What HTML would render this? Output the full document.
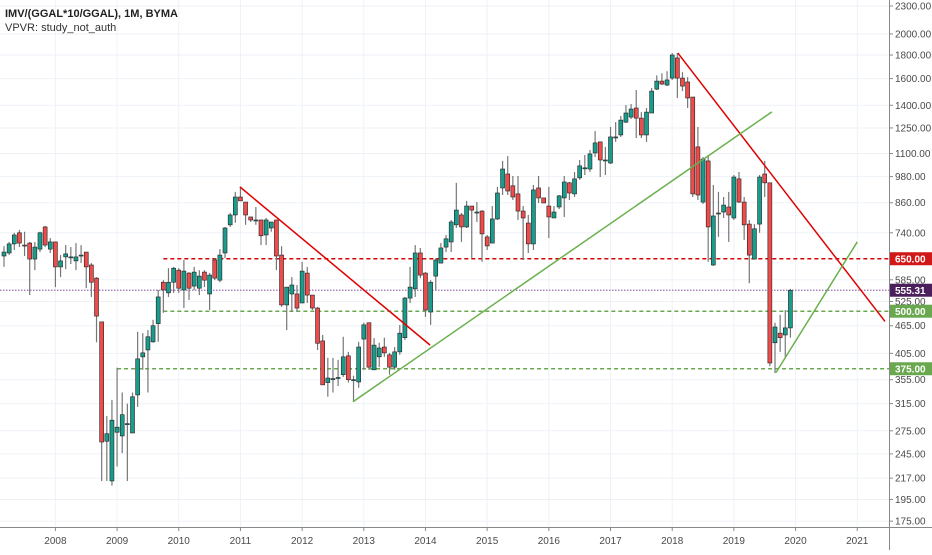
<!DOCTYPE html>
<html><head><meta charset="utf-8"><style>
html,body{margin:0;padding:0;background:#fff;}
body{width:932px;height:550px;overflow:hidden;font-family:"Liberation Sans",sans-serif;}
svg text{font-family:"Liberation Sans",sans-serif;}
</style></head><body>
<svg id="chart" width="932" height="550" viewBox="0 0 932 550" xmlns="http://www.w3.org/2000/svg">
<g id="grid"></g>
<g id="levels"></g>
<g id="candles"></g>
<g id="trend"></g>
<g id="yaxis"></g>
<g id="xaxis"></g>
<text x="5" y="17" font-size="11" font-weight="bold" fill="#222">IMV/(GGAL*10/GGAL), 1M, BYMA</text>
<text x="5" y="31" font-size="11" fill="#333">VPVR: study_not_auth</text>
</svg>
<script>
const opens=[659,669,700,740,696,703,649,682,762,682,707,624,656,656,643,662,672,630,590,474,261,214,273,268,285,272,329,398,412,429,470,578,548,578,614,556,605,567,561,608,545,646,584,669,770,809,885,863,801,789,789,732,758,789,662,516,545,545,521,605,542,508,431,350,357,359,364,400,355,351,435,472,373,398,418,402,378,408,438,534,559,669,605,498,596,636,689,707,770,809,762,846,821,825,725,703,793,926,993,936,899,825,777,700,926,881,846,797,842,881,950,899,974,1024,1018,1103,1166,1065,1049,1195,1207,1287,1320,1381,1313,1207,1347,1518,1580,1549,1604,1774,1604,1573,1459,1137,863,1060,630,817,821,842,797,969,863,773,649,773,993,950,427,448,444,460];
const highs=[692,707,740,751,744,707,707,744,766,721,707,662,696,689,703,696,672,636,593,474,296,321,377,333,315,333,451,448,455,479,556,584,620,624,620,646,608,624,614,614,605,652,682,762,817,908,931,863,801,842,789,797,781,789,692,564,593,570,640,624,542,511,444,396,396,392,440,408,362,429,472,472,437,427,438,406,418,467,537,624,696,686,608,584,652,703,732,789,950,817,868,846,863,829,732,846,931,1060,1086,983,983,846,809,940,983,881,931,846,894,983,954,1003,1065,1092,1120,1231,1166,1137,1256,1287,1327,1402,1409,1511,1353,1381,1526,1626,1643,1660,1818,1818,1652,1612,1459,1256,1081,1092,940,908,885,908,988,1003,885,789,773,988,1060,950,472,491,503,559];
const lows=[624,662,679,689,659,542,614,672,689,669,564,593,617,633,614,636,561,537,428,214,214,209,230,246,214,272,310,373,333,427,429,496,537,548,548,508,529,556,542,564,503,584,578,652,762,778,868,770,781,770,696,696,744,614,511,455,498,498,521,521,503,412,346,326,333,344,360,350,318,341,373,373,373,378,398,364,373,402,433,521,537,590,486,467,556,636,672,672,758,707,758,652,781,640,679,703,789,894,894,872,789,646,669,679,859,859,721,797,833,801,872,885,964,988,1003,1081,978,988,1044,1166,1195,1281,1307,1189,1189,1166,1347,1511,1549,1541,1589,1452,1503,1381,885,872,855,640,627,725,797,707,789,859,714,575,649,740,885,380,367,408,398,438];
const closes=[672,700,732,703,693,649,689,740,696,707,624,643,666,656,656,662,624,578,488,260,271,290,280,298,285,326,394,406,440,465,537,556,578,620,561,611,561,608,596,584,599,590,662,758,809,885,868,809,789,789,729,789,781,659,516,564,570,508,611,542,508,426,346,358,357,359,398,355,355,418,467,378,422,416,406,378,408,448,534,564,669,599,503,578,646,686,718,781,829,762,846,829,821,736,693,793,903,1018,912,885,825,797,700,917,881,859,801,821,890,954,903,969,1034,1024,1098,1160,1065,1065,1195,1195,1300,1347,1374,1313,1207,1353,1503,1580,1557,1589,1800,1604,1541,1452,899,894,1070,762,805,817,850,809,978,863,770,662,755,978,950,386,462,438,460,555.31];
const yTicks=[2300,2000,1800,1600,1400,1250,1100,980,860,740,650,585,555.31,525,500,465,405,375,355,315,275,245,217,195,175];
const gridTicks=[2300,2000,1800,1600,1400,1250,1100,980,860,740,585,525,465,405,355,315,275,245,217,195,175];
const years=["2008","2009","2010","2011","2012","2013","2014","2015","2016","2017","2018","2019","2020","2021"];
const yearIdx=[10,22,34,46,58,70,82,94,106,118,130,142,154,166];
const levelVals=[650,555.31,500,375];
const levelStart=[31,-1,31,22];
const levelColors=["#d50000","#9c6fb5","#6aa84f","#6aa84f"];
const levelBg=["#d01818","#4b1f5c","#6aa84f","#6aa84f"];
const levelNames=["level-650","last-price-555","level-500","level-375"];
const trendX1=[45.9,131.1,67.9,150.2];
const trendY1=[931,1818,318,368];
const trendX2=[82.9,171.4,149.4,166];
const trendY2=[422,475,1355,707];
const trendColors=["#e00000","#e00000","#6ab04c","#6ab04c"];
const trendNames=["red-trendline-2011","red-trendline-2018","green-trendline-2012","green-trendline-2019"];

const NS="http://www.w3.org/2000/svg";
const PR=889;
function xs(i){return 4+i*5.14;}
function ys(v){return 6+200*Math.log(2300/v);}
function mk(tag,attrs,parent){const e=document.createElementNS(NS,tag);for(const k in attrs)e.setAttribute(k,attrs[k]);parent.appendChild(e);return e;}
const grid=document.getElementById('grid');
gridTicks.forEach(v=>{
  const l=mk('line',{x1:0,x2:PR,y1:ys(v),y2:ys(v),stroke:'#eef2f7','stroke-width':1},grid);
  
  
});
yearIdx.forEach(i=>{
  const l=mk('line',{x1:xs(i),x2:xs(i),y1:0,y2:527,stroke:'#eef2f7','stroke-width':1},grid);
  
  
});
const lev=document.getElementById('levels');
levelVals.forEach((v,k)=>{
  const x1=levelStart[k]<0?0:xs(levelStart[k]);
  const l=mk('line',{x1:x1,x2:PR,y1:ys(v),y2:ys(v),stroke:levelColors[k],'stroke-width':k==1?1.2:1.5,'stroke-dasharray':k==1?'1.5,1.5':'4,3'},lev);
  
  
});
const cg=document.getElementById('candles');
opens.forEach((o,i)=>{
  const c=closes[i],h=highs[i],lo=lows[i];
  const x=xs(i);const up=c>=o;
  const g=mk('g',{},cg);
  
  
  mk('line',{x1:x,x2:x,y1:ys(h),y2:ys(lo),stroke:'#777','stroke-width':1.2},g);
  const top=ys(Math.max(o,c)),bot=ys(Math.min(o,c));
  mk('rect',{x:x-2,y:top,width:4,height:Math.max(1,bot-top),fill:up?'#1a9c8c':'#ee4b4b',stroke:'#222','stroke-width':0.6},g);
});
const tg=document.getElementById('trend');
trendX1.forEach((x,k)=>{
  const l=mk('line',{x1:xs(x),y1:ys(trendY1[k]),x2:xs(trendX2[k]),y2:ys(trendY2[k]),stroke:trendColors[k],'stroke-width':1.5},tg);
  
  
});
const ya=document.getElementById('yaxis');
mk('line',{x1:PR+0.5,x2:PR+0.5,y1:0,y2:550,stroke:'#888','stroke-width':1},ya);
mk('rect',{x:PR+1,y:0,width:50,height:550,fill:'#fff'},ya).setAttribute('fill','#fff');
mk('line',{x1:PR+0.5,x2:PR+0.5,y1:0,y2:550,stroke:'#888','stroke-width':1},ya);
yTicks.forEach(v=>{
  if(levelVals.indexOf(v)>=0)return;
  const y=ys(v);
  mk('line',{x1:PR,x2:PR+4,y1:y,y2:y,stroke:'#888'},ya);
  const t=mk('text',{x:PR+6,y:y+3.5,'font-size':10,fill:'#4a4a4a'},ya);
  t.textContent=v.toFixed(2);
  
  
});
levelVals.forEach((v,k)=>{
  const y=ys(v);
  const r=mk('rect',{x:PR+1,y:y-6.5,width:42,height:13,fill:levelBg[k]},ya);
  
  
  const t=mk('text',{x:PR+6,y:y+4,'font-size':10,'font-weight':'bold',fill:'#fff'},ya);
  t.textContent=v.toFixed(2);
  
  
});
const xa=document.getElementById('xaxis');
mk('line',{x1:0,x2:932,y1:527.5,y2:527.5,stroke:'#888'},xa);
years.forEach((s,k)=>{
  const x=xs(yearIdx[k]);
  mk('line',{x1:x,x2:x,y1:527,y2:531,stroke:'#888'},xa);
  const t=mk('text',{x:x,y:544,'font-size':10,fill:'#4a4a4a','text-anchor':'middle'},xa);
  t.textContent=s;
  
  
});
</script>
</body></html>
